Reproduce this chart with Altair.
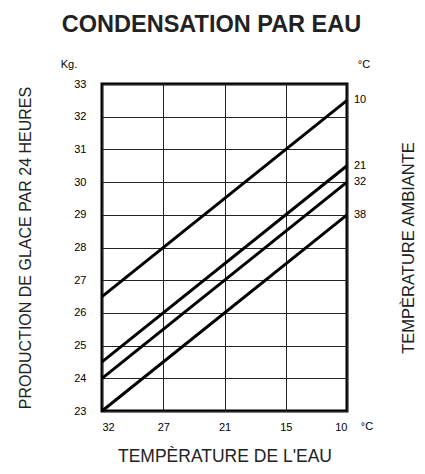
import altair as alt
import pandas as pd

FONT = "Liberation Sans"

x_labels = ["32", "27", "21", "15", "10"]          # water temperature (°C), evenly spaced
ambient = ["10", "21", "32", "38"]                 # ambient temperature (°C)
kg_at_32 = [26.5, 24.5, 24.0, 23.0]                # ice production at water 32 °C
kg_at_10 = [32.5, 30.5, 30.0, 29.0]                # ice production at water 10 °C
y_ticks = list(range(23, 34))

rows = []
for a, s, e in zip(ambient, kg_at_32, kg_at_10):
    rows.append({"amb": a, "pos": 0, "kg": s})
    rows.append({"amb": a, "pos": len(x_labels) - 1, "kg": e})
lines_df = pd.DataFrame(rows)
ends_df = pd.DataFrame({"amb": ambient, "pos": len(x_labels) - 1, "kg": kg_at_10})

W, H = 245, 327

x_enc = alt.X(
    "pos:Q",
    scale=alt.Scale(domain=[0, len(x_labels) - 1], nice=False, zero=False),
    axis=alt.Axis(
        values=list(range(len(x_labels))),
        labelExpr=f"{x_labels}[datum.value]",
        grid=True, gridColor="#222", gridWidth=1,
        domain=False, ticks=False,
        labelPadding=10, labelFontSize=11,
        title="TEMPÈRATURE DE L'EAU", titleFontSize=17.5, titlePadding=15,
    ),
)
y_scale = alt.Scale(domain=[23, 33], nice=False, zero=False)

lines = alt.Chart(lines_df).mark_line(color="black", strokeWidth=3).encode(
    x=x_enc,
    y=alt.Y(
        "kg:Q", scale=y_scale,
        axis=alt.Axis(
            values=y_ticks, grid=True, gridColor="#222", gridWidth=1,
            domain=False, ticks=False, labelPadding=16, labelFontSize=11,
            title="PRODUCTION DE GLACE PAR 24 HEURES", titleFontSize=16,
            titlePadding=40,
        ),
    ),
    detail="amb:N",
)

ends = alt.Chart(ends_df).mark_text(
    align="left", baseline="middle", dx=7, fontSize=11, font=FONT, color="black"
).encode(
    x=x_enc,
    y=alt.Y(
        "kg:Q", scale=y_scale,
        axis=alt.Axis(
            orient="right", labels=False, ticks=False, domain=False, grid=False,
            title="TEMPÈRATURE AMBIANTE", titleFontSize=16.5, titleAngle=270,
            titlePadding=69,
        ),
    ),
    text="amb:N",
)

one = pd.DataFrame({"k": [0]})
kg_unit = alt.Chart(one).mark_text(fontSize=11, font=FONT, color="black").encode(
    x=alt.value(-33), y=alt.value(-19), text=alt.value("Kg.")
)
c_top = alt.Chart(one).mark_text(fontSize=11, font=FONT, color="black").encode(
    x=alt.value(262), y=alt.value(-19), text=alt.value("°C")
)
c_bottom = alt.Chart(one).mark_text(fontSize=11, font=FONT, color="black").encode(
    x=alt.value(265), y=alt.value(343), text=alt.value("°C")
)

chart = (
    alt.layer(lines, ends, kg_unit, c_top, c_bottom)
    .resolve_axis(y="independent")
    .properties(
        width=W, height=H,
        autosize=alt.AutoSizeParams(type="none"),
        padding={"left": 94, "top": 76, "right": 70, "bottom": 55},
        title=alt.TitleParams(
            "CONDENSATION PAR EAU", fontSize=23.5, fontWeight="bold", font=FONT,
            color="#222", anchor="middle", frame="group", dx=-13, offset=23,
        ),
    )
    .configure_view(stroke="black", strokeWidth=3)
    .configure_axis(
        labelFont=FONT, titleFont=FONT, labelColor="black", titleColor="#222",
        titleFontWeight="normal",
    )
)

chart.save("out.html", embed_options={"renderer": "svg", "actions": False})
